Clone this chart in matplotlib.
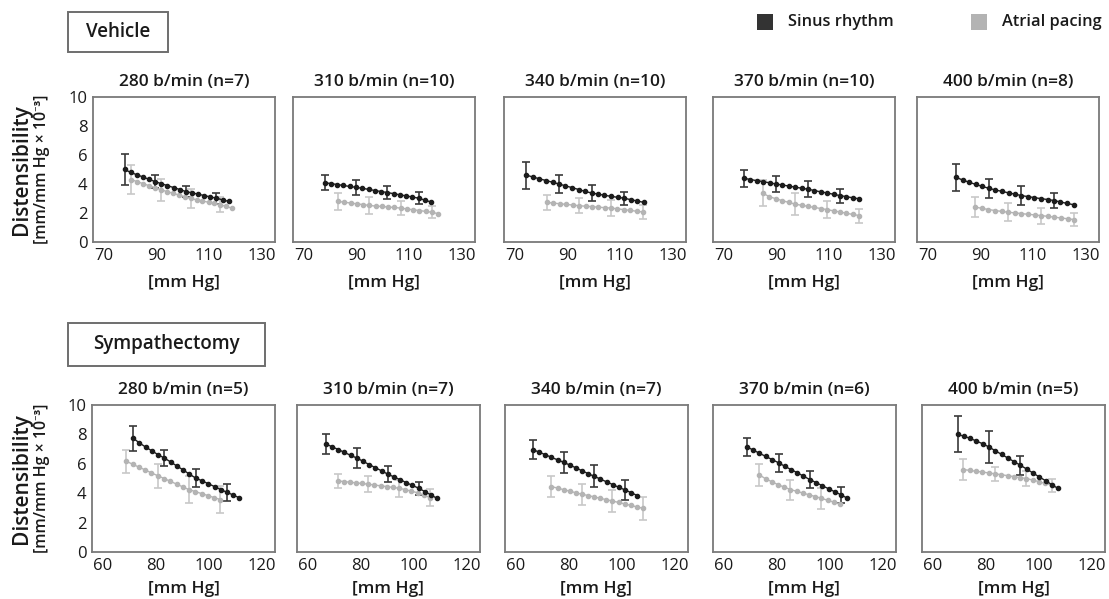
import matplotlib
matplotlib.use("Agg")
import matplotlib.pyplot as plt
from matplotlib.patches import Rectangle

plt.rcParams.update({
    "font.family": ["Open Sans", "Noto Sans", "DejaVu Sans"],
    "font.size": 11,
})

W, H = 1109, 599

# ── Vehicle group (top row) ────────────────────────────────────────────────
VEH_TITLES = ["280 b/min (n=7)", "310 b/min (n=10)", "340 b/min (n=10)",
              "370 b/min (n=10)", "400 b/min (n=8)"]
VEH_XTICKS = [70, 90, 110, 130]

VEH_SR_X = [
    [78.0, 80.3, 82.6, 85.0, 87.3, 89.6, 91.9, 94.2, 96.6, 98.9, 101.2, 103.5, 105.8, 108.2, 110.5, 112.8, 115.1, 117.4],
    [78.0, 80.4, 82.8, 85.1, 87.5, 89.9, 92.3, 94.7, 97.0, 99.4, 101.8, 104.2, 106.6, 108.9, 111.3, 113.7, 116.1, 118.5],
    [74.5, 77.0, 79.4, 81.9, 84.4, 86.9, 89.3, 91.8, 94.3, 96.7, 99.2, 101.7, 104.1, 106.6, 109.1, 111.6, 114.0, 116.5, 119.0],
    [77.8, 80.2, 82.6, 85.1, 87.5, 89.9, 92.3, 94.7, 97.2, 99.6, 102.0, 104.4, 106.8, 109.3, 111.7, 114.1, 116.5, 118.9, 121.4],
    [80.9, 83.4, 85.8, 88.3, 90.8, 93.3, 95.7, 98.2, 100.7, 103.1, 105.6, 108.1, 110.5, 113.0, 115.5, 118.0, 120.4, 122.9, 125.4],
]
VEH_SR_Y = [
    [5.00, 4.80, 4.64, 4.48, 4.32, 4.16, 4.02, 3.89, 3.75, 3.62, 3.48, 3.39, 3.30, 3.20, 3.11, 3.02, 2.91, 2.80],
    [4.09, 4.03, 3.96, 3.90, 3.83, 3.77, 3.70, 3.63, 3.55, 3.48, 3.41, 3.33, 3.25, 3.18, 3.10, 3.02, 2.88, 2.75],
    [4.61, 4.48, 4.36, 4.24, 4.12, 4.00, 3.87, 3.75, 3.62, 3.49, 3.38, 3.30, 3.22, 3.15, 3.08, 3.02, 2.92, 2.83, 2.73],
    [4.39, 4.31, 4.23, 4.16, 4.08, 4.00, 3.93, 3.86, 3.78, 3.71, 3.64, 3.55, 3.46, 3.38, 3.29, 3.20, 3.13, 3.05, 2.98],
    [4.45, 4.27, 4.12, 3.97, 3.83, 3.70, 3.59, 3.49, 3.39, 3.30, 3.20, 3.13, 3.06, 2.99, 2.93, 2.86, 2.76, 2.66, 2.57],
]
VEH_SR_BAR_IDX = [[0, 5, 10, 15]] * 5
VEH_SR_BAR_ERR = [
    [1.05, 0.45, 0.40, 0.38],
    [0.53, 0.50, 0.45, 0.43],
    [0.94, 0.62, 0.53, 0.45],
    [0.60, 0.55, 0.55, 0.48],
    [0.90, 0.65, 0.65, 0.51],
]

VEH_AP_X = [
    [80.5, 82.8, 85.0, 87.3, 89.5, 91.8, 94.0, 96.3, 98.5, 100.8, 103.0, 105.3, 107.5, 109.8, 112.0, 114.3, 116.5, 118.8],
    [83.1, 85.5, 87.8, 90.2, 92.6, 94.9, 97.3, 99.7, 102.1, 104.4, 106.8, 109.2, 111.5, 113.9, 116.3, 118.7, 121.0],
    [82.3, 84.7, 87.2, 89.6, 92.0, 94.5, 96.9, 99.3, 101.7, 104.2, 106.6, 109.0, 111.5, 113.9, 116.3, 118.8],
    [85.0, 87.4, 89.9, 92.3, 94.7, 97.2, 99.6, 102.0, 104.4, 106.9, 109.3, 111.7, 114.2, 116.6, 119.0, 121.5],
    [88.1, 90.6, 93.1, 95.6, 98.1, 100.6, 103.1, 105.6, 108.1, 110.6, 113.1, 115.6, 118.1, 120.6, 123.1, 125.6],
]
VEH_AP_Y = [
    [4.30, 4.16, 4.02, 3.88, 3.74, 3.60, 3.48, 3.36, 3.24, 3.12, 3.00, 2.91, 2.83, 2.74, 2.66, 2.57, 2.45, 2.33],
    [2.80, 2.74, 2.69, 2.63, 2.58, 2.52, 2.48, 2.45, 2.41, 2.38, 2.34, 2.28, 2.22, 2.17, 2.11, 2.05, 1.95],
    [2.73, 2.68, 2.64, 2.59, 2.55, 2.50, 2.47, 2.44, 2.40, 2.37, 2.34, 2.29, 2.23, 2.18, 2.12, 2.07],
    [3.36, 3.12, 2.98, 2.85, 2.73, 2.61, 2.53, 2.46, 2.38, 2.31, 2.23, 2.15, 2.07, 1.98, 1.90, 1.82],
    [2.41, 2.32, 2.24, 2.17, 2.11, 2.05, 2.01, 1.96, 1.91, 1.87, 1.82, 1.77, 1.71, 1.66, 1.60, 1.55],
]
VEH_AP_BAR_IDX = [[0, 5, 10, 15]] * 5
VEH_AP_BAR_ERR = [
    [1.00, 0.77, 0.63, 0.50],
    [0.60, 0.57, 0.50, 0.40],
    [0.50, 0.52, 0.57, 0.48],
    [0.89, 0.74, 0.60, 0.49],
    [0.68, 0.62, 0.55, 0.45],
]

# ── Sympathectomy group (bottom row) ───────────────────────────────────────
SYM_TITLES = ["280 b/min (n=5)", "310 b/min (n=7)", "340 b/min (n=7)",
              "370 b/min (n=6)", "400 b/min (n=5)"]
SYM_XTICKS = [60, 80, 100, 120]

SYM_SR_X = [
    [71.5, 73.9, 76.2, 78.6, 80.9, 83.3, 85.7, 88.0, 90.4, 92.7, 95.1, 97.5, 99.8, 102.2, 104.5, 106.9, 109.3, 111.6],
    [66.9, 69.2, 71.6, 73.9, 76.2, 78.6, 80.9, 83.2, 85.5, 87.9, 90.2, 92.5, 94.9, 97.2, 99.5, 101.9, 104.2, 106.5, 108.8],
    [66.6, 68.9, 71.2, 73.5, 75.8, 78.1, 80.5, 82.8, 85.1, 87.4, 89.7, 92.0, 94.3, 96.6, 98.9, 101.3, 103.6, 105.9],
    [68.8, 71.2, 73.5, 75.9, 78.3, 80.7, 83.0, 85.4, 87.8, 90.1, 92.5, 94.9, 97.2, 99.6, 102.0, 104.4, 106.7],
    [69.4, 71.8, 74.1, 76.5, 78.9, 81.3, 83.6, 86.0, 88.4, 90.7, 93.1, 95.5, 97.8, 100.2, 102.6, 104.9, 107.3],
]
SYM_SR_Y = [
    [7.74, 7.42, 7.14, 6.88, 6.62, 6.39, 6.12, 5.85, 5.58, 5.30, 5.03, 4.84, 4.65, 4.45, 4.25, 4.06, 3.87, 3.68],
    [7.35, 7.16, 6.97, 6.77, 6.58, 6.39, 6.17, 5.95, 5.74, 5.52, 5.30, 5.11, 4.92, 4.72, 4.53, 4.34, 4.11, 3.88, 3.65],
    [6.96, 6.79, 6.62, 6.44, 6.27, 6.10, 5.91, 5.72, 5.52, 5.33, 5.14, 4.96, 4.77, 4.59, 4.40, 4.22, 4.03, 3.84],
    [7.15, 6.93, 6.72, 6.50, 6.29, 6.07, 5.84, 5.61, 5.39, 5.16, 4.93, 4.72, 4.51, 4.30, 4.09, 3.88, 3.65],
    [8.00, 7.88, 7.73, 7.55, 7.36, 7.14, 6.89, 6.64, 6.39, 6.15, 5.90, 5.64, 5.38, 5.11, 4.85, 4.59, 4.32],
]
SYM_SR_BAR_IDX = [[0, 5, 10, 15], [0, 5, 10, 15], [0, 5, 10, 15], [0, 5, 10, 15], [0, 5, 10]]
SYM_SR_BAR_ERR = [
    [0.84, 0.56, 0.61, 0.56],
    [0.71, 0.66, 0.57, 0.45],
    [0.63, 0.71, 0.75, 0.68],
    [0.63, 0.63, 0.57, 0.57],
    [1.22, 1.09, 0.63],
]

SYM_AP_X = [
    [69.0, 71.4, 73.7, 76.1, 78.4, 80.8, 83.2, 85.5, 87.9, 90.2, 92.6, 95.0, 97.3, 99.7, 102.0, 104.4],
    [71.3, 73.6, 75.9, 78.3, 80.6, 82.9, 85.2, 87.5, 89.9, 92.2, 94.5, 96.8, 99.1, 101.5, 103.8, 106.1],
    [73.5, 75.8, 78.1, 80.4, 82.7, 85.0, 87.3, 89.6, 91.9, 94.2, 96.5, 98.8, 101.1, 103.4, 105.7, 108.0],
    [73.5, 75.8, 78.2, 80.5, 82.9, 85.2, 87.5, 89.9, 92.2, 94.6, 96.9, 99.2, 101.6, 103.9],
    [71.6, 74.0, 76.4, 78.7, 81.1, 83.5, 85.9, 88.3, 90.6, 93.0, 95.4, 97.8, 100.2, 102.5, 104.9],
]
SYM_AP_Y = [
    [6.16, 5.97, 5.77, 5.58, 5.38, 5.19, 5.00, 4.81, 4.62, 4.43, 4.24, 4.11, 3.97, 3.84, 3.70, 3.57],
    [4.84, 4.79, 4.75, 4.70, 4.66, 4.61, 4.56, 4.50, 4.45, 4.39, 4.34, 4.24, 4.14, 4.03, 3.87, 3.70],
    [4.45, 4.35, 4.24, 4.14, 4.03, 3.93, 3.84, 3.75, 3.65, 3.56, 3.47, 3.37, 3.27, 3.17, 3.07, 2.97],
    [5.25, 4.98, 4.78, 4.58, 4.41, 4.25, 4.13, 4.01, 3.89, 3.77, 3.65, 3.52, 3.39, 3.26],
    [5.61, 5.55, 5.49, 5.44, 5.38, 5.32, 5.26, 5.19, 5.13, 5.06, 5.00, 4.89, 4.78, 4.66, 4.55],
]
SYM_AP_BAR_IDX = [[0, 5, 10, 15], [0, 5, 10, 15], [0, 5, 10, 15], [0, 5, 10], [0, 5, 10, 14]]
SYM_AP_BAR_ERR = [
    [0.77, 0.82, 0.90, 0.90],
    [0.48, 0.54, 0.59, 0.57],
    [0.72, 0.71, 0.73, 0.76],
    [0.73, 0.68, 0.73],
    [0.72, 0.48, 0.51, 0.45],
]

SR_COLOR, SR_BAR = "#1c1c1c", "#3a3a3a"
AP_COLOR, AP_BAR = "#b4b4b4", "#c8c8c8"
TXT = "#1a1a1a"
W_TXT = "semibold"


def fx(x):
    return x / W


def fy(y):
    return 1 - y / H


fig = plt.figure(figsize=(W / 100, H / 100), dpi=100)

rows = [
    dict(lefts=[93, 293, 504, 713, 917], width=182, top=97, bottom=242,
         xlim=(66, 135), xticks=VEH_XTICKS, titles=VEH_TITLES,
         srx=VEH_SR_X, sry=VEH_SR_Y, sri=VEH_SR_BAR_IDX, sre=VEH_SR_BAR_ERR,
         apx=VEH_AP_X, apy=VEH_AP_Y, api=VEH_AP_BAR_IDX, ape=VEH_AP_BAR_ERR,
         xlab_y=283),
    dict(lefts=[92, 297, 505, 713, 922], width=183, top=405, bottom=552,
         xlim=(56, 125), xticks=SYM_XTICKS, titles=SYM_TITLES,
         srx=SYM_SR_X, sry=SYM_SR_Y, sri=SYM_SR_BAR_IDX, sre=SYM_SR_BAR_ERR,
         apx=SYM_AP_X, apy=SYM_AP_Y, api=SYM_AP_BAR_IDX, ape=SYM_AP_BAR_ERR,
         xlab_y=589),
]

for r in rows:
    for i, left in enumerate(r["lefts"]):
        ax = fig.add_axes([fx(left), fy(r["bottom"]), r["width"] / W,
                           (r["bottom"] - r["top"]) / H])
        # atrial pacing first, sinus rhythm on top
        for xs, ys, idx, err, c, bc in [
            (r["apx"][i], r["apy"][i], r["api"][i], r["ape"][i], AP_COLOR, AP_BAR),
            (r["srx"][i], r["sry"][i], r["sri"][i], r["sre"][i], SR_COLOR, SR_BAR),
        ]:
            ax.plot(xs, ys, "-o", color=c, lw=1.0, ms=3.0, zorder=3)
            ax.errorbar([xs[k] for k in idx], [ys[k] for k in idx], yerr=err,
                        fmt="none", ecolor=bc, elinewidth=1.2, capsize=3,
                        capthick=1.2, zorder=2)
        ax.set_xlim(*r["xlim"])
        ax.set_ylim(0, 10)
        ax.set_xticks(r["xticks"])
        ax.set_yticks([0, 2, 4, 6, 8, 10])
        ax.tick_params(length=0, labelsize=12, colors=TXT, pad=4)
        if i > 0:
            ax.set_yticklabels([])
        for s in ax.spines.values():
            s.set_color("#7a7a7a")
            s.set_linewidth(1.3)
        ax.set_title(r["titles"][i], fontsize=12.5, color=TXT, pad=8,
                     fontweight=W_TXT)
        fig.text(fx(left + r["width"] / 2), fy(r["xlab_y"]), "[mm Hg]",
                 ha="center", va="center", fontsize=12.5, color=TXT,
                 fontweight=W_TXT)
    # y-axis label, two lines
    yc = (r["top"] + r["bottom"]) / 2
    fig.text(fx(21), fy(yc), "Distensibility", rotation=90, ha="center",
             va="center", fontsize=15, color=TXT, fontweight=W_TXT)
    fig.text(fx(42), fy(yc), "[mm/mm Hg \u00d7 10\u207b\u00b3]", rotation=90,
             ha="center", va="center", fontsize=11.5, color=TXT,
             fontweight=W_TXT)

# group boxes
for (x0, y0, x1, y1, label) in [(68, 12, 168, 52, "Vehicle"),
                                (68, 323, 265, 366, "Sympathectomy")]:
    fig.patches.append(Rectangle((fx(x0), fy(y1)), (x1 - x0) / W, (y1 - y0) / H,
                                 transform=fig.transFigure, fill=False,
                                 edgecolor="#6e6e6e", lw=1.4))
    fig.text(fx((x0 + x1) / 2), fy((y0 + y1) / 2), label, ha="center",
             va="center", fontsize=13.5, color=TXT, fontweight=W_TXT)

# legend
for (sx, color, label) in [(757, "#333333", "Sinus rhythm"),
                           (971, "#b3b3b3", "Atrial pacing")]:
    fig.patches.append(Rectangle((fx(sx), fy(30)), 16 / W, 16 / H,
                                 transform=fig.transFigure, facecolor=color,
                                 edgecolor="none"))
    fig.text(fx(sx + 31), fy(22), label, ha="left", va="center",
             fontsize=11.8, color=TXT, fontweight=W_TXT)

fig.savefig("out.png", dpi=100, facecolor="white")
